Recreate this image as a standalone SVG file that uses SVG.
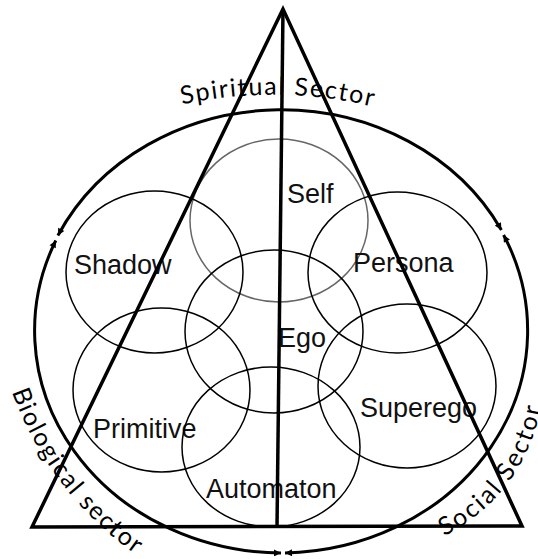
<svg xmlns="http://www.w3.org/2000/svg" width="538" height="559" viewBox="0 0 538 559">
<style>
.ring{fill:none;stroke:#000;stroke-width:1.5}
.ring.self{stroke:#666}
.lbl{font-family:"Liberation Sans",Arial,sans-serif;font-size:27px;fill:#111}
.frame{fill:none;stroke:#000;stroke-width:3.5;stroke-linejoin:miter}
.cycle{fill:none;stroke:#000;stroke-width:3;marker-start:url(#ah);marker-end:url(#ah)}
.sector{font-family:Lato,"Liberation Sans",sans-serif;font-size:25px;fill:#000}
</style>
<defs>
<marker id="ah" viewBox="0 0 10 10" refX="10" refY="5" markerWidth="9" markerHeight="7" markerUnits="userSpaceOnUse" orient="auto-start-reverse">
<path d="M0,0 L10,5 L0,10 z" fill="#000"/>
</marker>
<path id="pSpirit" d="M150 112.6 A432 432 0 0 1 400 114"/>
<path id="pBio" d="M10.5 387.9 A339 339 0 0 0 151.4 565"/>
<path id="pSocial" d="M438.5 538.6 A176.5 176.5 0 0 0 542.5 392.8"/>
</defs>

<g id="node-self"><ellipse class="ring self" cx="279" cy="220.5" rx="89" ry="81.5"/><text class="lbl" x="287" y="203">Self</text></g>
<g id="node-shadow"><ellipse class="ring" cx="154.5" cy="272" rx="88.5" ry="81"/><text class="lbl" x="74" y="274">Shadow</text></g>
<g id="node-persona"><ellipse class="ring" cx="397.5" cy="272.5" rx="89.5" ry="80.5"/><text class="lbl" x="353" y="272">Persona</text></g>
<g id="node-ego"><ellipse class="ring" cx="274" cy="331.5" rx="89" ry="81.5"/><text class="lbl" x="278" y="347">Ego</text></g>
<g id="node-primitive"><ellipse class="ring" cx="161.5" cy="390" rx="88.5" ry="82"/><text class="lbl" x="93" y="438">Primitive</text></g>
<g id="node-superego"><ellipse class="ring" cx="407" cy="386" rx="89" ry="82"/><text class="lbl" x="360" y="417">Superego</text></g>
<g id="node-automaton"><ellipse class="ring" cx="271" cy="447" rx="89" ry="80"/><text class="lbl" x="206" y="498">Automaton</text></g>

<g id="triangle">
<path class="frame" d="M283 9 L32 527 L522 526 Z"/>
<line x1="283" y1="9" x2="277" y2="527" stroke="#000" stroke-width="3.5"/>
</g>

<g id="connectors">
<path class="cycle" d="M57.9 235.5 A248 222.5 0 0 1 501.4 230"/>
<path class="cycle" d="M55.8 240.5 A248 222.5 0 0 0 281 553"/>
<path class="cycle" d="M503.6 235 A248 222.5 0 0 1 285 553"/>
</g>

<g id="sector-labels">
<text class="sector"><textPath href="#pSpirit" startOffset="33" textLength="192" lengthAdjust="spacing">Spiritual Sector</textPath></text>
<text class="sector"><textPath href="#pBio" startOffset="4" textLength="207" lengthAdjust="spacing">Biological sector</textPath></text>
<text class="sector"><textPath href="#pSocial" startOffset="6" textLength="167" lengthAdjust="spacing">Social Sector</textPath></text>
</g>
</svg>
